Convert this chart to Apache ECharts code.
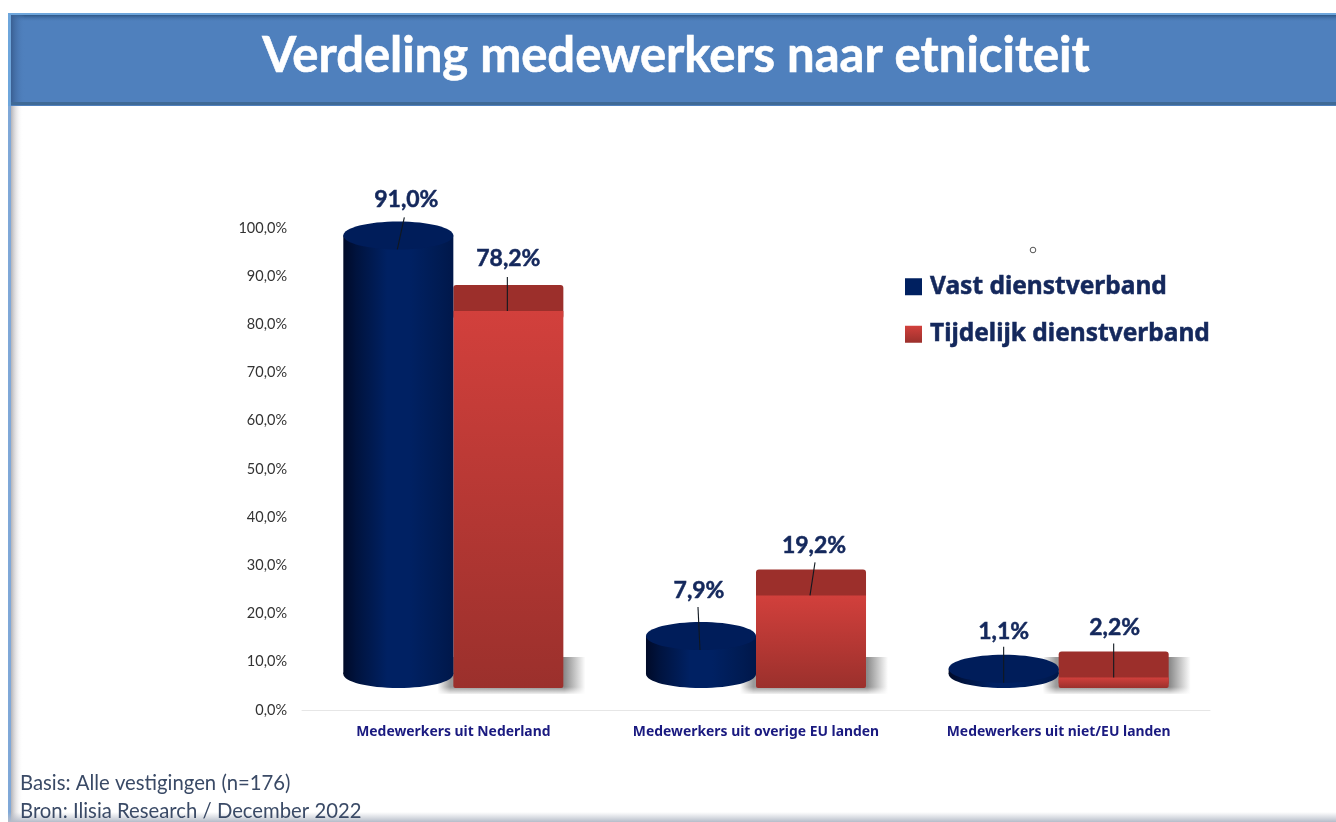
<!DOCTYPE html>
<html>
<head>
<meta charset="utf-8">
<style>html,body{margin:0;padding:0;background:#fff}#c{width:1336px;height:822px}</style>
<script src="https://cdn.jsdelivr.net/npm/echarts@6/dist/echarts.min.js"></script>
</head>
<body>
<div id="c"></div>
<script>
const categories = ['Medewerkers uit Nederland', 'Medewerkers uit overige EU landen', 'Medewerkers uit niet/EU landen'];
const vast = [91.0, 7.9, 1.1];
const tijdelijk = [78.2, 19.2, 2.2];
const seriesNames = ['Vast dienstverband', 'Tijdelijk dienstverband'];
const titleText = 'Verdeling medewerkers naar etniciteit';
const footerText = ['Basis: Alle vestigingen (n=176)', 'Bron: Ilisia Research / December 2022'];

// Layout constants (pixels)
const floorLift = 22, faceDepth = 26, ellipseRy = 14;
// leader: [line start dx, line start dy, line end dx, label dx, label dy] relative to bar centre and value height
const vastLeaders = [[6, -32, -1, 8, -50], [-3, -43, -1, -2, -59], [0, -36, 0, 0, -51]];
const tijdelijkLeaders = [[-1, -34, -1, 0, -52], [4, -33, -1, 3, -50], [0, -34, 0, 1, -50]];

const fmt = v => v.toFixed(1).replace('.', ',') + '%';
const hGrad = stops => ({type: 'linear', x: 0, y: 0, x2: 1, y2: 0, colorStops: stops});
const vGrad = stops => ({type: 'linear', x: 0, y: 0, x2: 0, y2: 1, colorStops: stops});

function leaderParts(cx, valueY, leader, value) {
  return [
    {type: 'text', z2: 20, style: {text: fmt(value), x: cx + leader[3], y: valueY + leader[4], align: 'center', verticalAlign: 'middle',
      fill: '#14285c', font: 'bold 23px Lato', stroke: '#14285c', lineWidth: 0.5}},
    {type: 'line', z2: 19, shape: {x1: cx + leader[0], y1: valueY + leader[1], x2: cx + leader[2], y2: valueY},
      style: {stroke: '#101820', lineWidth: 1.1}}
  ];
}

function renderVast(params, api) {
  const i = api.value(0), v = api.value(1);
  const base = api.coord([i, 0]), top = api.coord([i, v]);
  const w = api.size([1, 0])[0] * 0.3635;
  const left = base[0] - w, cx = left + w / 2;
  const floorY = base[1] - floorLift, valueY = top[1] - floorLift;
  const baseCy = floorY - ellipseRy, topCy = valueY - ellipseRy;
  const bodyFill = hGrad([{offset: 0, color: '#000a28'}, {offset: 0.12, color: '#00133e'}, {offset: 0.4, color: '#002163'}, {offset: 0.6, color: '#002163'}, {offset: 0.88, color: '#001b52'}, {offset: 1, color: '#00174a'}]);
  return {type: 'group', children: [
    {type: 'ellipse', z2: 10, shape: {cx: cx, cy: baseCy, rx: w / 2, ry: ellipseRy}, style: {fill: bodyFill}},
    {type: 'rect', z2: 11, shape: {x: left, y: topCy, width: w, height: baseCy - topCy}, style: {fill: bodyFill}},
    {type: 'ellipse', z2: 12, shape: {cx: cx, cy: topCy, rx: w / 2, ry: ellipseRy}, style: {fill: '#001d5a'}}
  ].concat(leaderParts(cx, valueY, vastLeaders[i], v))};
}

function renderTijdelijk(params, api) {
  const i = api.value(0), v = api.value(1);
  const base = api.coord([i, 0]), top = api.coord([i, v]);
  const w = api.size([1, 0])[0] * 0.3635;
  const left = base[0], cx = left + w / 2;
  const floorY = base[1] - floorLift, valueY = top[1] - floorLift;
  return {type: 'group', children: [
    {type: 'rect', z2: 1, shape: {x: left - 16, y: floorY - 31, width: w + 38, height: 37},
      style: {fill: hGrad([{offset: 0, color: 'rgba(140,140,140,0)'}, {offset: 0.09, color: '#9a9a9a'}, {offset: 0.86, color: '#8c8c8c'}, {offset: 1, color: 'rgba(255,255,255,1)'}])}},
    {type: 'rect', z2: 2, shape: {x: left - 18, y: floorY - 1, width: w + 42, height: 8},
      style: {fill: vGrad([{offset: 0, color: 'rgba(255,255,255,0)'}, {offset: 1, color: 'rgba(255,255,255,1)'}])}},
    {type: 'rect', z2: 5, shape: {x: left, y: valueY - faceDepth, width: w, height: faceDepth + 8, r: 3}, style: {fill: '#9c2f2b'}},
    {type: 'rect', z2: 6, shape: {x: left, y: valueY, width: w, height: floorY - valueY, r: [0, 0, 2, 2]},
      style: {fill: vGrad([{offset: 0, color: '#d2403c'}, {offset: 1, color: '#9b302c'}])}}
  ].concat(leaderParts(cx, valueY, tijdelijkLeaders[i], v))};
}

const chart = echarts.init(document.getElementById('c'), null, {renderer: 'canvas'});
chart.setOption({
  animation: false,
  backgroundColor: '#ffffff',
  title: {text: titleText, left: 671, top: 27, textAlign: 'center',
    textStyle: {color: '#ffffff', fontFamily: 'Lato', fontWeight: 'bold', fontSize: 49, textBorderColor: '#ffffff', textBorderWidth: 0.6}, z: 10},
  grid: {left: 302, right: 126, top: 228, bottom: 112, containLabel: false},
  legend: {
    left: 905, top: 274, padding: 0, orient: 'vertical', itemGap: 22, itemWidth: 17, itemHeight: 17, icon: 'rect',
    selectedMode: false,
    textStyle: {color: '#14285c', fontFamily: 'Noto Sans', fontWeight: 'bold', fontSize: 24.5, textBorderColor: '#14285c', textBorderWidth: 0.5, padding: [0, 0, 0, 3]},
    data: [
      {name: seriesNames[0], itemStyle: {color: '#002060'}},
      {name: seriesNames[1], itemStyle: {color: vGrad([{offset: 0, color: '#d2403c'}, {offset: 1, color: '#9b302c'}])}}
    ]
  },
  xAxis: {type: 'category', data: categories, axisTick: {show: false},
    axisLine: {lineStyle: {color: '#e6e6e6', width: 1}},
    axisLabel: {color: '#1a1a80', fontFamily: 'Noto Sans', fontWeight: 'bold', fontSize: 13.9, margin: 15, interval: 0}},
  yAxis: {type: 'value', min: 0, max: 100, interval: 10, axisLine: {show: false}, axisTick: {show: false},
    splitLine: {show: false},
    axisLabel: {color: '#333333', fontFamily: 'Lato', fontSize: 14.5, margin: 15, formatter: v => v.toFixed(1).replace('.', ',') + '%'}},
  series: [
    {name: seriesNames[1], type: 'custom', clip: false, z: 2, renderItem: renderTijdelijk, itemStyle: {color: '#c23a36'},
      encode: {x: 0, y: 1}, data: tijdelijk.map((v, i) => [i, v])},
    {name: seriesNames[0], type: 'custom', clip: false, z: 3, renderItem: renderVast, itemStyle: {color: '#002060'},
      encode: {x: 0, y: 1}, data: vast.map((v, i) => [i, v])}
  ],
  graphic: [
    {type: 'rect', z: -5, shape: {x: 11, y: 105, width: 12, height: 717}, style: {fill: hGrad([{offset: 0, color: '#b3b3b8'}, {offset: 1, color: 'rgba(255,255,255,0)'}])}},
    {type: 'rect', z: -5, shape: {x: 8, y: 105, width: 3, height: 717}, style: {fill: '#7fa8d8'}},
    {type: 'rect', z: -5, shape: {x: 8, y: 812, width: 1328, height: 10}, style: {fill: vGrad([{offset: 0, color: 'rgba(190,195,205,0)'}, {offset: 1, color: '#b5bcc9'}])}},
    {type: 'rect', z: -4, shape: {x: 8, y: 13, width: 1328, height: 93}, style: {fill: '#4f80bd'}},
    {type: 'rect', z: -4, shape: {x: 8, y: 13, width: 1328, height: 2}, style: {fill: '#6ea6dc'}},
    {type: 'rect', z: -4, shape: {x: 8, y: 13, width: 3, height: 93}, style: {fill: '#6ea6dc'}},
    {type: 'rect', z: -4, shape: {x: 11, y: 15, width: 1325, height: 7}, style: {fill: vGrad([{offset: 0, color: '#2c5687'}, {offset: 1, color: 'rgba(79,128,189,0)'}])}},
    {type: 'rect', z: -4, shape: {x: 11, y: 15, width: 14, height: 88}, style: {fill: hGrad([{offset: 0, color: '#3a5f92'}, {offset: 1, color: 'rgba(79,128,189,0)'}])}},
    {type: 'rect', z: -4, shape: {x: 11, y: 102, width: 1325, height: 3}, style: {fill: '#3f6a96'}},
    {type: 'circle', z: 5, shape: {cx: 1033, cy: 250, r: 2.8}, style: {fill: '#ffffff', stroke: '#555555', lineWidth: 1}},
    {type: 'text', z: 5, style: {text: footerText[0], x: 20, y: 783, verticalAlign: 'middle', fill: '#3a4a66', font: '20.3px Lato'}},
    {type: 'text', z: 5, style: {text: footerText[1], x: 20, y: 811, verticalAlign: 'middle', fill: '#3a4a66', font: '20.3px Lato'}}
  ]
});
</script>
</body>
</html>
